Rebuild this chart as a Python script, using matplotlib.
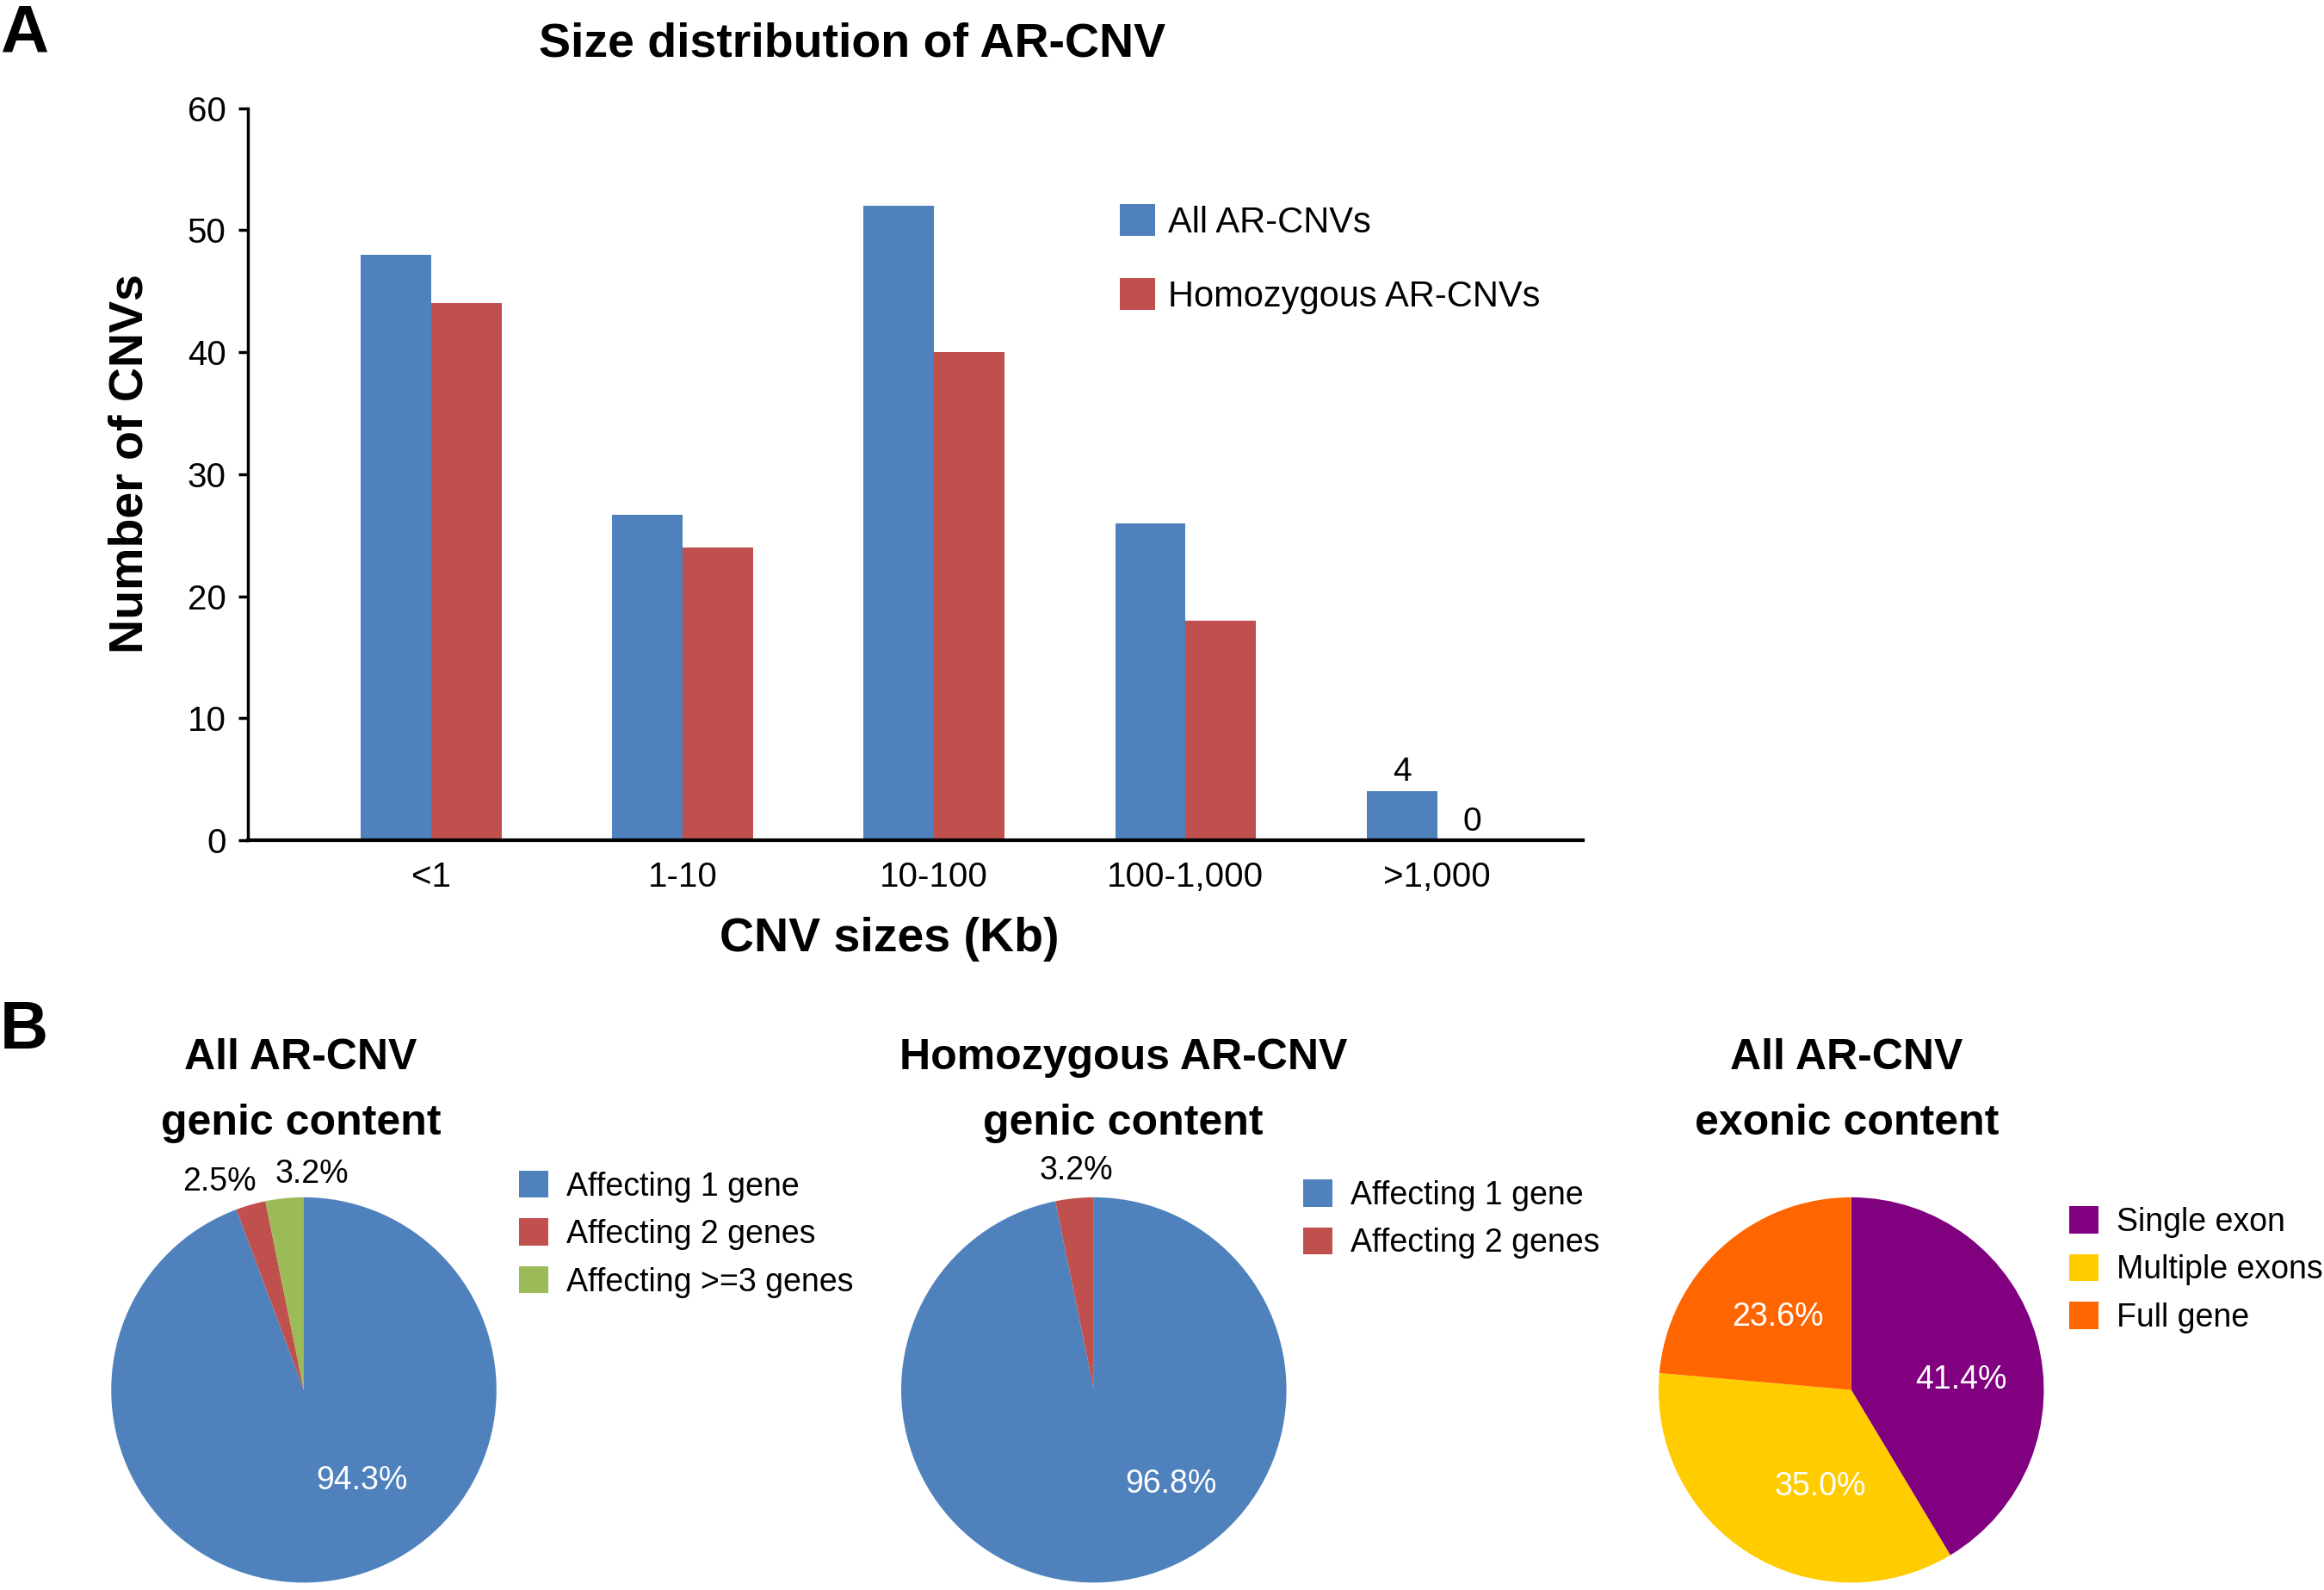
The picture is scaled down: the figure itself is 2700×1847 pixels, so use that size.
import matplotlib.pyplot as plt
import numpy as np

plt.rcParams['font.family'] = ['Liberation Sans', 'DejaVu Sans']

# bar chart data (panel A)
size_bins = ['<1', '1-10', '10-100', '100-1,000', '>1,000']
all_cnv = [48, 26.7, 52, 26, 4]
homo_cnv = [44, 24, 40, 18, 0]
bar_names = ['All AR-CNVs', 'Homozygous AR-CNVs']

# pie data (panel B)
genic_all_labels = ['Affecting 1 gene', 'Affecting 2 genes', 'Affecting >=3 genes']
genic_all = [94.3, 2.5, 3.2]
genic_homo_labels = ['Affecting 1 gene', 'Affecting 2 genes']
genic_homo = [96.8, 3.2]
exonic_labels = ['Single exon', 'Multiple exons', 'Full gene']
exonic_all = [41.4, 35.0, 23.6]

blue = '#4F81BD'
red = '#C0504D'
green = '#9BBB59'
purple = '#800080'
yellow = '#FFCC00'
orange = '#FF6600'

W, H = 1568, 1073  # layout measured on the reference at this scale
fig = plt.figure(figsize=(27, 18.47), dpi=100)


def fx(x):
    return x / W


def fy(y):
    return 1 - y / H


# ---- panel A ----
ax = fig.add_axes([fx(167), fy(567), fx(1068) - fx(167), fy(73) - fy(567)])
x = np.arange(len(size_bins))
w = 0.28
b1 = ax.bar(x - w / 2, all_cnv, w, color=blue, label=bar_names[0])
b2 = ax.bar(x + w / 2, homo_cnv, w, color=red, label=bar_names[1])
ax.set_xlim(-0.73, 4.58)
ax.set_ylim(0, 60)
ax.set_yticks(np.arange(0, 61, 10))
ax.set_xticks(x)
ax.set_xticklabels(size_bins)
ax.tick_params(axis='x', length=0, pad=17, labelsize=29)
ax.tick_params(axis='y', length=8, width=2.5, pad=10, labelsize=29)
for s in ['top', 'right']:
    ax.spines[s].set_visible(False)
ax.spines['left'].set_linewidth(2.5)
ax.spines['bottom'].set_linewidth(3)

# value labels only on the last group
ax.text(x[-1] - w / 2, all_cnv[-1] + 0.3, str(all_cnv[-1]), ha='center', va='bottom', fontsize=28)
ax.text(x[-1] + w / 2, homo_cnv[-1] + 0.2, str(homo_cnv[-1]), ha='center', va='bottom', fontsize=28)

ax.legend(loc='upper left', bbox_to_anchor=(0.653, 0.869), frameon=False, fontsize=30,
          handlelength=0.98, handleheight=1.0, handletextpad=0.37, labelspacing=1.05,
          borderaxespad=0, borderpad=0)

fig.text(fx(575), fy(30), 'Size distribution of AR-CNV', ha='center', va='center',
         fontsize=40, fontweight='bold')
fig.text(fx(88), fy(313), 'Number of CNVs', ha='center', va='center', rotation=90,
         fontsize=40, fontweight='bold')
fig.text(fx(600), fy(634), 'CNV sizes (Kb)', ha='center', va='center',
         fontsize=40, fontweight='bold')
fig.text(0.0, 1 - 60 / 1847, 'A', ha='left', va='baseline', fontsize=56, fontweight='bold')
fig.text(0.0, 1 - 1198 / 1847, 'B', ha='left', va='center', fontsize=56, fontweight='bold')


# ---- panel B ----
def pie_axes(cx, cy, r=130):
    a = fig.add_axes([fx(cx - r), fy(cy + r), fx(2 * r), fy(0) - fy(2 * r)])
    a.set_xlim(-1, 1)
    a.set_ylim(-1, 1)
    a.axis('off')
    return a


def pie_title(cx, text1, text2):
    fig.text(fx(cx), fy(714), text1, ha='center', va='center', fontsize=36, fontweight='bold')
    fig.text(fx(cx), fy(758), text2, ha='center', va='center', fontsize=36, fontweight='bold')


def pie_legend(a, wedges, labels, lx, ly):
    a.legend(wedges, labels, loc='upper left', bbox_to_anchor=(fx(lx), fy(ly)),
             bbox_transform=fig.transFigure, frameon=False, fontsize=27,
             handlelength=0.92, handleheight=0.92, handletextpad=0.55, labelspacing=0.5,
             borderaxespad=0, borderpad=0)


# pie 1
p1 = pie_axes(205, 938)
wd1, _ = p1.pie(genic_all, colors=[blue, red, green], startangle=90, counterclock=False,
                radius=1, center=(0, 0), frame=False)
p1.set_xlim(-1, 1)
p1.set_ylim(-1, 1)
p1.text(0.30, -0.47, f'{genic_all[0]}%', color='white', ha='center', va='center', fontsize=27)
p1.text(-0.44, 1.08, f'{genic_all[1]}%', ha='center', va='center', fontsize=27)
p1.text(0.04, 1.12, f'{genic_all[2]}%', ha='center', va='center', fontsize=27)
pie_title(203, 'All AR-CNV', 'genic content')
pie_legend(p1, wd1, genic_all_labels, 350, 790)

# pie 2
p2 = pie_axes(738, 938)
wd2, _ = p2.pie(genic_homo, colors=[blue, red], startangle=90, counterclock=False,
                radius=1, center=(0, 0), frame=False)
p2.set_xlim(-1, 1)
p2.set_ylim(-1, 1)
p2.text(0.40, -0.49, f'{genic_homo[0]}%', color='white', ha='center', va='center', fontsize=27)
p2.text(-0.09, 1.14, f'{genic_homo[1]}%', ha='center', va='center', fontsize=27)
pie_title(758, 'Homozygous AR-CNV', 'genic content')
pie_legend(p2, wd2, genic_homo_labels, 879, 796)

# pie 3
p3 = pie_axes(1249, 938)
wd3, _ = p3.pie(exonic_all, colors=[purple, yellow, orange], startangle=90, counterclock=False,
                radius=1, center=(0, 0), frame=False)
p3.set_xlim(-1, 1)
p3.set_ylim(-1, 1)
for (tx, ty), v in zip([(0.57, 0.05), (-0.16, -0.50), (-0.38, 0.38)], exonic_all):
    p3.text(tx, ty, f'{v:.1f}%', color='white', ha='center', va='center', fontsize=27)
pie_title(1246, 'All AR-CNV', 'exonic content')
pie_legend(p3, wd3, exonic_labels, 1396, 814)

fig.savefig('out.png', dpi=100, facecolor='white')
